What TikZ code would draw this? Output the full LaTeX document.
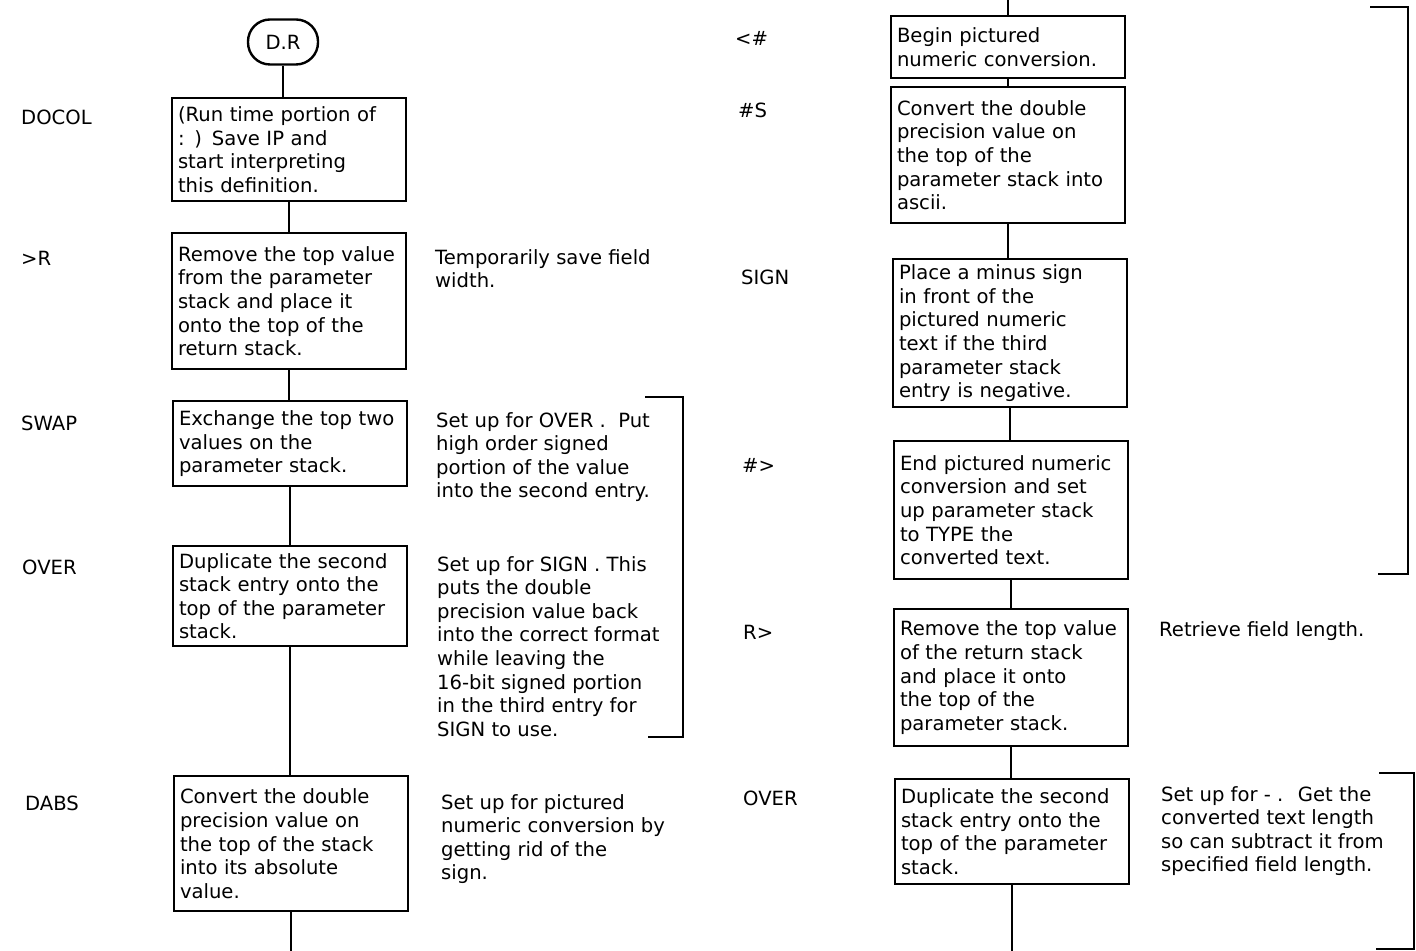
\documentclass[tikz,border=0pt]{standalone}
\usepackage{fontspec}
\setmainfont{DejaVu Sans}
\begin{document}
\begin{tikzpicture}
[x=0.5pt,y=-0.5pt,line width=1.2pt,
every node/.style={font=\fontsize{9.8pt}{11.8pt}\selectfont},
box/.style={draw,anchor=north,align=left,text width=111pt,inner xsep=3pt,inner ysep=2pt},
term/.style={draw,rounded corners=11pt,minimum width=35pt,minimum height=22.5pt,inner sep=0pt},
word/.style={anchor=west,inner sep=0pt},
note/.style={anchor=north west,align=left,inner sep=0pt}]
\useasboundingbox (0,0) rectangle (1416,951);
\draw (283,42) node[term] (dr) {D.R};
\draw (289,97) node[box,minimum height=51.5pt] (docol) {(Run time portion of\\: ) Save IP and\\start interpreting\\this definition.};
\draw (289,232) node[box,minimum height=68pt] (tor) {Remove the top value\\from the parameter\\stack and place it\\onto the top of the\\return stack.};
\draw (290,400) node[box,minimum height=42.5pt] (swap) {Exchange the top two\\values on the\\parameter stack.};
\draw (290,545) node[box,minimum height=50pt] (over) {Duplicate the second\\stack entry onto the\\top of the parameter\\stack.};
\draw (291,775) node[box,minimum height=67.5pt] (dabs) {Convert the double\\precision value on\\the top of the stack\\into its absolute\\value.};
\coordinate (lbot) at (291,951);

\draw (20,117) node[word] (wdocol) {DOCOL};
\draw (20,258) node[word] (wtor) {>R};
\draw (20,423) node[word] (wswap) {SWAP};
\draw (21,567) node[word] (wover) {OVER};
\draw (24,803) node[word] (wdabs) {DABS};

\draw (434,248) node[note] (ntor) {Temporarily save field\\width.};
\draw (435,411) node[note] (nswap) {Set up for OVER .~ Put\\high order signed\\portion of the value\\into the second entry.};
\draw (436,555) node[note] (nover) {Set up for SIGN . This\\puts the double\\precision value back\\into the correct format\\while leaving the\\16-bit signed portion\\in the third entry for\\SIGN to use.};
\draw (440,793) node[note] (ndabs) {Set up for pictured\\numeric conversion by\\getting rid of the\\sign.};

\draw(dr.south)--(dr.south |- docol.north);
\draw(docol.south)--(docol.south |- tor.north);
\draw(tor.south)--(tor.south |- swap.north);
\draw(swap.south)--(swap.south |- over.north);
\draw(over.south)--(over.south |- dabs.north);
\draw(dabs.south)--(lbot);

\draw(645,397)--(683,397)--(683,737)--(648,737);

\coordinate (rtop) at (1008,0);
\draw (1008,15) node[box,minimum height=31pt] (bgn) {Begin pictured\\numeric conversion.};
\draw (1008,86) node[box,minimum height=68pt] (cnv) {Convert the double\\precision value on\\the top of the\\parameter stack into\\ascii.};
\draw (1010,258) node[box,minimum height=74pt] (sgn) {Place a minus sign\\in front of the\\pictured numeric\\text if the third\\parameter stack\\entry is negative.};
\draw (1011,440) node[box,minimum height=69pt] (fin) {End pictured numeric\\conversion and set\\up parameter stack\\to TYPE the\\converted text.};
\draw (1011,608) node[box,minimum height=68.5pt] (rfr) {Remove the top value\\of the return stack\\and place it onto\\the top of the\\parameter stack.};
\draw (1012,778) node[box,minimum height=52.5pt] (dup) {Duplicate the second\\stack entry onto the\\top of the parameter\\stack.};
\coordinate (rbot) at (1012,951);

\draw (734,38) node[word] (wbgn) {<\#};
\draw (737,110) node[word] (wcnv) {\#S};
\draw (740,277) node[word] (wsgn) {SIGN};
\draw (741,465) node[word] (wfin) {\#>};
\draw (742,632) node[word] (wrfr) {R>};
\draw (742,798) node[word] (wdup) {OVER};

\draw (1158,620) node[note] (nrfr) {Retrieve field length.};
\draw (1160,785) node[note] (ndup) {Set up for - .~ Get the\\converted text length\\so can subtract it from\\specified field length.};

\draw(rtop)--(bgn.north);
\draw(bgn.south)--(bgn.south |- cnv.north);
\draw(cnv.south)--(cnv.south |- sgn.north);
\draw(sgn.south)--(sgn.south |- fin.north);
\draw(fin.south)--(fin.south |- rfr.north);
\draw(rfr.south)--(rfr.south |- dup.north);
\draw(dup.south)--(rbot);

\draw(1370,7)--(1408,7)--(1408,574)--(1378,574);
\draw(1379,773)--(1414,773)--(1414,949)--(1376,949);

\end{tikzpicture}
\end{document}
